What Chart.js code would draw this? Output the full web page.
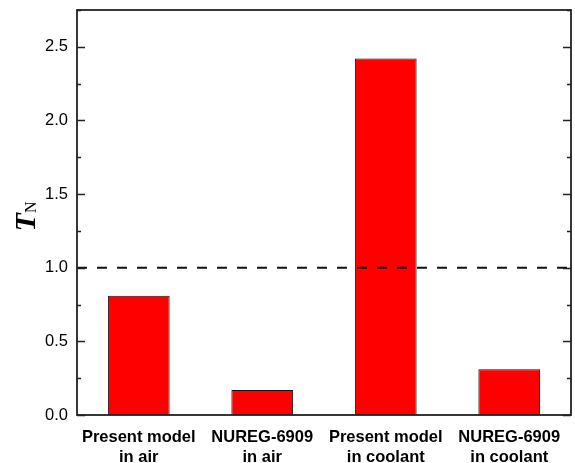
<!DOCTYPE html>
<html>
<head>
<meta charset="utf-8">
<script src="https://cdn.jsdelivr.net/npm/chart.js@4/dist/chart.umd.min.js"></script>
<style>
  html, body { margin: 0; padding: 0; background: #fff; }
  #wrap { width: 575px; height: 463px; }
</style>
</head>
<body>
<div id="wrap"><canvas id="c" width="575" height="463"></canvas></div>
<script>
// Normalised T_N for each model / environment combination
const categories = [
  ["Present model", "in air"],
  ["NUREG-6909", "in air"],
  ["Present model", "in coolant"],
  ["NUREG-6909", "in coolant"]
];
const tnValues = [0.81, 0.17, 2.42, 0.31];
const referenceLevel = 1.0;
const yMin = 0, yMax = 2.75, yMajorStep = 0.5, yMinorStep = 0.25;

// Frame with inward major/minor ticks on both vertical sides, plus the T=1 reference line
const framePlugin = {
  id: 'frame',
  afterDatasetsDraw(chart) {
    const { ctx, chartArea: a, scales: { y } } = chart;
    ctx.save();
    // reference line
    const yr = y.getPixelForValue(referenceLevel);
    ctx.strokeStyle = '#111';
    ctx.lineWidth = 2;
    ctx.setLineDash([10, 10]);
    ctx.beginPath();
    ctx.moveTo(a.left, yr);
    ctx.lineTo(a.right, yr);
    ctx.stroke();
    ctx.setLineDash([]);

    // ticks
    ctx.strokeStyle = '#222';
    ctx.lineWidth = 1.5;
    for (let v = yMin; v <= yMax + 1e-9; v += yMinorStep) {
      const major = Math.abs(v / yMajorStep - Math.round(v / yMajorStep)) < 1e-6;
      const len = major ? 8 : 4;
      const py = Math.round(y.getPixelForValue(v)) + 0.5;
      ctx.beginPath();
      ctx.moveTo(a.left, py); ctx.lineTo(a.left + len, py);
      ctx.moveTo(a.right, py); ctx.lineTo(a.right - len, py);
      ctx.stroke();
    }
    // frame
    ctx.lineWidth = 1.8;
    ctx.strokeRect(a.left, a.top, a.right - a.left, a.bottom - a.top);

    // axis title: bold-italic T with subscript N
    ctx.translate(35, (a.top + a.bottom) / 2 + 4);
    ctx.rotate(-Math.PI / 2);
    ctx.fillStyle = '#000';
    ctx.textBaseline = 'alphabetic';
    const tFont = 'bold italic 30px "Liberation Serif", "Times New Roman", serif';
    const nFont = '16px "Liberation Serif", "Times New Roman", serif';
    ctx.font = tFont;
    const tW = ctx.measureText('T').width;
    ctx.font = nFont;
    const nW = ctx.measureText('N').width;
    const total = tW + nW;
    ctx.font = tFont;
    ctx.fillText('T', -total / 2, 0);
    ctx.font = nFont;
    ctx.fillText('N', -total / 2 + tW, 1);
    ctx.restore();
  }
};

new Chart(document.getElementById('c'), {
  type: 'bar',
  data: {
    labels: categories,
    datasets: [{
      data: tnValues,
      backgroundColor: '#ff0000',
      borderColor: '#111',
      borderWidth: 1,
      barPercentage: 0.5,
      categoryPercentage: 1.0
    }]
  },
  options: {
    responsive: false,
    animation: false,
    layout: { padding: { top: 10, right: 4, left: 0, bottom: 0 } },
    plugins: { legend: { display: false }, tooltip: { enabled: false } },
    scales: {
      x: {
        grid: { display: false, drawTicks: false },
        border: { display: false },
        ticks: {
          color: '#000',
          padding: 12,
          maxRotation: 0,
          autoSkip: false,
          font: { family: '"Liberation Sans", Arial, sans-serif', size: 16.5, weight: 'bold', lineHeight: 1.25 }
        },
        afterFit(scale) {
          scale.height = 48;
          scale.paddingLeft = 0;
          scale.paddingRight = 0;
        }
      },
      y: {
        min: yMin,
        max: yMax,
        grid: { display: false, drawTicks: false },
        border: { display: false },
        ticks: {
          stepSize: yMajorStep,
          color: '#000',
          padding: 9,
          font: { family: '"Liberation Sans", Arial, sans-serif', size: 16.5 },
          callback: v => Number(v).toFixed(1)
        },
        afterBuildTicks(scale) {
          scale.ticks = scale.ticks.filter(t =>
            Math.abs(t.value / yMajorStep - Math.round(t.value / yMajorStep)) < 1e-6);
        },
        afterFit(scale) {
          scale.width = 77;
          scale.paddingTop = 0;
          scale.paddingBottom = 0;
        }
      }
    }
  },
  plugins: [framePlugin]
});
</script>
</body>
</html>
